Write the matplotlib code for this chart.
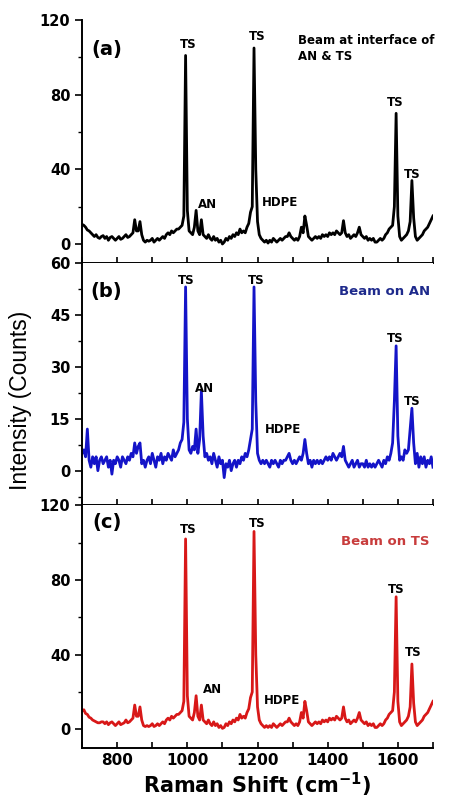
import numpy as np
import matplotlib.pyplot as plt
from matplotlib.ticker import MultipleLocator

# Raman shift grid, 5 cm-1 steps from 700 to 1700
shift = np.arange(700, 1701, 5)

# (a) beam at interface of AN & TS
intensity_a = [
    10.5, 10, 9, 7.5, 7, 6, 5, 4, 5, 3.5, 3, 4, 4.5, 3, 4, 2, 3.5, 4, 3, 2,
    3, 4, 2.5, 3, 4, 5, 3.5, 4, 5, 6, 13, 7, 7, 12, 5, 2, 1, 2, 1.5, 2,
    3, 1, 2, 3, 2, 3, 4, 3, 5, 6, 5, 7, 6, 7, 8, 8, 9, 10, 15, 101,
    18, 7, 6, 5, 9, 18, 7, 5, 13, 5, 4, 3, 5, 3, 2, 4, 2, 3, 1, 2,
    0, 1, 3, 2, 4, 3, 5, 4, 6, 5, 8, 6, 7, 6, 9, 11, 17, 20, 105, 40,
    12, 5, 3, 2, 1, 2, 0.5, 2, 1, 3, 2, 1, 2, 3, 2, 3, 4, 4, 6, 4,
    3, 2, 3, 2, 4, 9, 6, 15, 10, 4, 3, 2, 3, 4, 3, 4, 3, 5, 4, 5,
    4, 6, 5, 6, 5, 7, 6, 5, 6, 12.5, 6, 4, 5, 3, 4, 5, 4, 6, 9, 5,
    4, 3, 4, 2, 3, 2, 3, 1, 1, 2, 3, 2, 3, 5, 6, 8, 9, 10, 20, 70,
    15, 4, 2, 3, 4, 5, 7, 12, 34, 14, 4, 2, 3, 4, 5, 7, 8, 9, 11, 13,
    15,
]

# (b) beam on AN
intensity_b = [
    5, 6, 4, 12, 3, 1, 4, 2, 4, 0, 3, 4, 2, 3, 4, 1, 3, -1, 3, 2,
    4, 3, 1, 4, 3, 2, 4, 3, 5, 4, 8, 5, 7, 8, 2, 3, 1, 3, 4, 2,
    5, 3, 1, 4, 3, 5, 2, 4, 3, 5, 4, 3, 6, 4, 5, 6, 8, 9, 14, 53,
    15, 6, 5, 7, 6, 12, 5, 9, 23, 10, 4, 5, 3, 4, 2, 5, 3, 1, 4, 2,
    3, -2, 2, 1, 3, 0, 2, 3, 1, 3, 2, 4, 3, 5, 4, 6, 9, 12, 53, 20,
    5, 3, 2, 3, 2, 3, 2, 1, 3, 2, 3, 2, 1, 3, 2, 3, 3, 4, 5, 3,
    2, 3, 2, 3, 4, 3, 5, 9, 5, 2, 3, 1, 3, 2, 3, 2, 3, 2, 3, 4,
    3, 4, 3, 5, 4, 3, 4, 5, 4, 7, 3, 2, 1, 2, 3, 1, 2, 3, 1, 2,
    2, 1, 3, 1, 2, 1, 2, 1, 2, 3, 2, 1, 3, 2, 4, 3, 5, 8, 20, 36,
    10, 3, 4, 3, 6, 5, 6, 12, 18, 8, 2, 5, 1, 4, 2, 4, 1, 3, 2, 4,
    1,
]

# (c) beam on TS
intensity_c = [
    10, 10.5, 8.5, 8, 6.5, 6, 5, 4.5, 4, 3.5, 3.5, 4, 4, 3, 4, 2.5, 3.5, 4, 3, 2,
    3, 4, 2.5, 3, 3.5, 5, 3.5, 4, 5, 6, 13, 7, 7, 12, 5, 2, 1.5, 2, 1.5, 2,
    3, 1.5, 2, 3, 2, 3, 4, 3, 5, 6, 5, 7, 6, 7, 8, 8, 9, 10, 15, 102,
    18, 7, 6, 5, 9, 18, 7, 5, 13, 5, 4, 3, 5, 3, 2, 4, 2, 3, 1, 2,
    0.5, 1, 3, 2, 4, 3, 5, 4, 6, 5, 8, 6, 7, 6, 9, 11, 17, 20, 106, 40,
    12, 5, 3, 2, 1, 2, 1, 2, 1, 3, 2, 1, 2, 3, 2, 3, 4, 4, 6, 4,
    3, 2, 3, 2, 4, 9, 6, 15, 10, 4, 3, 2, 3, 4, 3, 4, 3, 5, 4, 5,
    4, 6, 5, 6, 5, 7, 6, 5, 6, 12, 6, 4, 5, 3, 4, 5, 4, 6, 9, 5,
    4, 3, 4, 2, 3, 2, 3, 1, 1, 2, 3, 2, 3, 5, 6, 8, 9, 10, 20, 71,
    15, 4, 2, 3, 4, 5, 7, 12, 35, 14, 4, 2, 3, 4, 5, 7, 8, 9, 11, 13,
    15,
]

panel_tags = ['(a)', '(b)', '(c)']
panel_notes = ['Beam at interface of\nAN & TS', 'Beam on AN', 'Beam on TS']
line_colors = ['black', '#1414c8', '#d81818']
note_colors = ['black', '#1e2a8c', '#c83c3c']
y_limits = [(-10, 120), (-10, 60), (-10, 120)]
y_steps = [40, 15, 40]

# peak labels per panel: (text, x, y)
labels_a = [('TS', 1002, 107), ('AN', 1058, 21), ('TS', 1198, 111), ('HDPE', 1264, 22),
            ('TS', 1592, 76), ('TS', 1641, 37)]
labels_b = [('TS', 996, 55), ('AN', 1050, 23.7), ('TS', 1196, 55), ('HDPE', 1274, 12),
            ('TS', 1592, 38), ('TS', 1641, 20)]
labels_c = [('TS', 1001, 107), ('AN', 1071, 21.6), ('TS', 1200, 110), ('HDPE', 1269, 15.7),
            ('TS', 1596, 75), ('TS', 1644, 41)]

plt.rcParams['font.family'] = ['DejaVu Sans']
plt.rcParams['font.weight'] = 'bold'

fig, axes = plt.subplots(3, 1, figsize=(4.51, 8.0), dpi=100, sharex=True)
fig.subplots_adjust(left=0.182, right=0.960, top=0.975, bottom=0.065, hspace=0)

series = [intensity_a, intensity_b, intensity_c]
labels = [labels_a, labels_b, labels_c]

for i, ax in enumerate(axes):
    ax.plot(shift, series[i], color=line_colors[i], lw=2.0)
    ax.set_xlim(700, 1700)
    ax.set_ylim(*y_limits[i])
    ax.yaxis.set_major_locator(MultipleLocator(y_steps[i]))
    ax.yaxis.set_minor_locator(MultipleLocator(y_steps[i] / 2))
    ax.xaxis.set_major_locator(MultipleLocator(200))
    ax.xaxis.set_minor_locator(MultipleLocator(100))
    ax.spines['top'].set_visible(False)
    ax.spines['right'].set_visible(False)
    ax.spines['left'].set_linewidth(1.4)
    ax.spines['bottom'].set_linewidth(1.4)
    ax.tick_params(axis='y', which='major', direction='out', length=5, width=1.2, labelsize=10.5)
    ax.tick_params(axis='y', which='minor', direction='out', length=3, width=1)
    ax.tick_params(axis='x', which='both', direction='in', length=4, width=1.2, labelsize=11)
    for t in ax.get_yticklabels():
        t.set_fontweight('bold')
    for txt, x, y in labels[i]:
        ax.text(x, y, txt, ha='center', va='center', fontsize=8.5, fontweight='bold')
    ax.text(0.07, 0.88 if i != 2 else 0.93, panel_tags[i], transform=ax.transAxes,
            fontsize=14, fontweight='bold', ha='center', va='center')

axes[0].text(1315, 105, panel_notes[0], ha='left', va='center', fontsize=8.5,
             fontweight='bold', color=note_colors[0], linespacing=1.3)
axes[1].text(1692, 51.8, panel_notes[1], ha='right', va='center', fontsize=9.5,
             fontweight='bold', color=note_colors[1])
axes[2].text(1690, 100.7, panel_notes[2], ha='right', va='center', fontsize=9.5,
             fontweight='bold', color=note_colors[2])

axes[2].set_xlabel('Raman Shift (cm$^{\\mathbf{-1}}$)', fontsize=15, fontweight='bold', labelpad=2)
for t in axes[2].get_xticklabels():
    t.set_fontweight('bold')

fig.text(0.045, 0.5, 'Intensity (Counts)', rotation=90, ha='center', va='center',
         fontsize=16.5, fontweight='normal', family=['Liberation Sans Narrow', 'Liberation Sans', 'DejaVu Sans'])

fig.savefig('out.png', dpi=100)
